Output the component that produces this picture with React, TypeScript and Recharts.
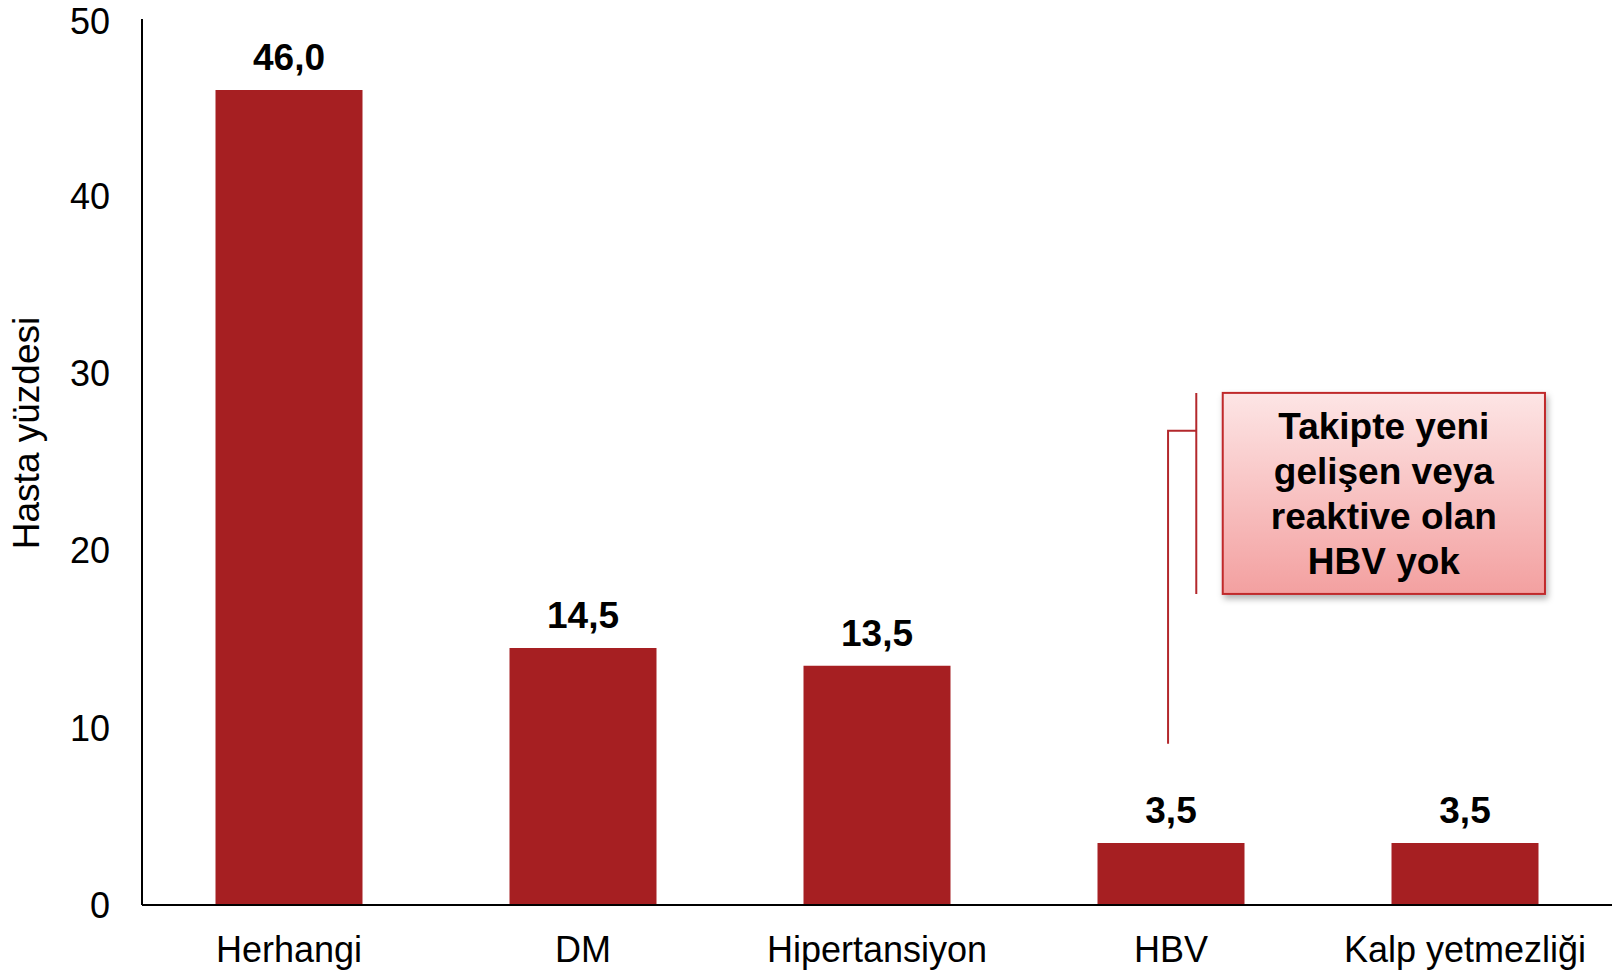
import React from 'react';
import { BarChart, Bar, XAxis, YAxis, LabelList, ReferenceArea } from 'recharts';

const categories = ['Herhangi', 'DM', 'Hipertansiyon', 'HBV', 'Kalp yetmezliği'];
const percentages = [46.0, 14.5, 13.5, 3.5, 3.5];
const yTicks = [0, 10, 20, 30, 40, 50];
const calloutLines = ['Takipte yeni', 'gelişen veya', 'reaktive olan', 'HBV yok'];

const data = categories.map((name, i) => ({ name, value: percentages[i] }));

const FONT = '"Liberation Sans", Arial, Helvetica, sans-serif';
const BAR_COLOR = '#a61f22';

const fmt = (v: any) => Number(v).toFixed(1).replace('.', ',');

// callout box + bracket, placed inside the area spanned by HBV..Kalp yetmezliği
const Callout = (props: any) => {
  const { x, y, width, height } = props;
  const boxL = x + width * 0.338;
  const boxR = x + width * 0.886;
  const boxB = y + height * 0.573;
  const brX = x + width * 0.293;
  const lnX = x + width * 0.245;
  const hY = y + height * 0.108;
  const cx = (boxL + boxR) / 2;
  const textTop = y + 34;
  return (
    <g>
      <defs>
        <linearGradient id="calloutFill" x1="0" y1="0" x2="0" y2="1">
          <stop offset="0%" stopColor="#fde5e5" />
          <stop offset="100%" stopColor="#f3a0a0" />
        </linearGradient>
        <filter id="calloutShadow" x="-10%" y="-10%" width="130%" height="130%">
          <feDropShadow dx="2" dy="4" stdDeviation="3" floodColor="#000" floodOpacity="0.3" />
        </filter>
      </defs>
      <path d={`M${brX},${y} L${brX},${boxB} M${brX},${hY} L${lnX},${hY} L${lnX},${y + height}`}
        stroke="#b3282c" strokeWidth={2} fill="none" />
      <rect x={boxL} y={y} width={boxR - boxL} height={boxB - y}
        fill="url(#calloutFill)" stroke="#c0292c" strokeWidth={2} filter="url(#calloutShadow)" />
      {calloutLines.map((t, i) => (
        <text key={i} x={cx} y={textTop + i * 45} textAnchor="middle" dominantBaseline="central"
          fontFamily={FONT} fontSize={37} fontWeight="bold" fill="#000">{t}</text>
      ))}
    </g>
  );
};

const YLabel = (props: any) => {
  const { viewBox } = props;
  const cx = viewBox.x + 26;
  const cy = 433;
  return (
    <text x={cx} y={cy} transform={`rotate(-90, ${cx}, ${cy})`} textAnchor="middle"
      dominantBaseline="central" fontFamily={FONT} fontSize={37} fill="#000">
      Hasta yüzdesi
    </text>
  );
};

export default function App() {
  return (
    <div style={{ position: 'absolute', left: 0, top: 0, background: '#fff' }}>
      <BarChart width={1617} height={974} data={data}
        margin={{ top: 19, right: 5, bottom: 0, left: 0 }}
        barCategoryGap="25%">
        <XAxis dataKey="name" height={69} axisLine={{ stroke: '#000', strokeWidth: 2 }} tickLine={false}
          tickSize={0} tickMargin={31} interval={0}
          tick={{ fontFamily: FONT, fontSize: 36, fill: '#000' }} />
        <YAxis width={142} domain={[0, 50]} ticks={yTicks} axisLine={{ stroke: '#000', strokeWidth: 2 }}
          tickLine={false} tickSize={0} tickMargin={32}
          tick={{ fontFamily: FONT, fontSize: 36, fill: '#000' }}
          label={{ content: YLabel }} />
        <Bar dataKey="value" fill={BAR_COLOR} isAnimationActive={false}>
          <LabelList dataKey="value" position="top" offset={20} formatter={fmt}
            style={{ fontFamily: FONT, fontSize: 37, fontWeight: 'bold', fill: '#000' }} />
        </Bar>
        <ReferenceArea x1="HBV" x2="Kalp yetmezliği" y1={9.1} y2={28.9}
          fill="none" stroke="none" ifOverflow="visible" shape={Callout} />
      </BarChart>
    </div>
  );
}
